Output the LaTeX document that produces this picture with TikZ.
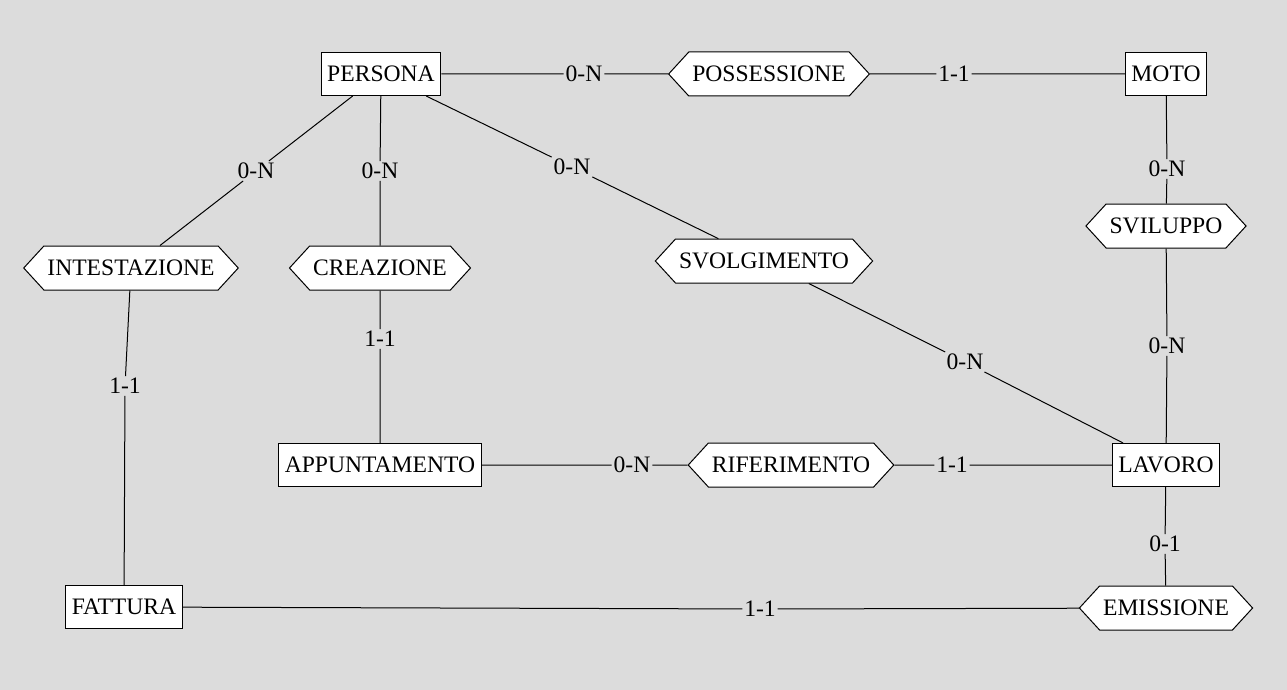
\documentclass[tikz,border=0pt]{standalone}
\usepackage{fontspec}
\setmainfont{Liberation Serif}
\usetikzlibrary{shapes.symbols}
\definecolor{bggray}{RGB}{220,220,220}
\begin{document}
\begin{tikzpicture}[x=1pt, y=-1pt, line width=1pt, font=\fontsize{23.6}{27}\selectfont,
    entity/.style={draw, fill=white, minimum height=43pt, inner xsep=6pt},
    relation/.style={draw, fill=white, signal, signal to=west and east, signal pointer angle=95, minimum height=44pt, inner xsep=3.5pt},
    card/.style={inner sep=1.5pt}]
    \fill[bggray] (0,0) rectangle (1287,690);
    \useasboundingbox (0,0) rectangle (1287,690);
\node (persona) at (381,74)[entity]{PERSONA};
\node (possessione) at (769,74)[relation]{POSSESSIONE};
\node (moto) at (1166,74)[entity]{MOTO};
\node (intestazione) at (131,268)[relation]{INTESTAZIONE};
\node (creazione) at (380,268)[relation]{CREAZIONE};
\node (svolgimento) at (764,261)[relation]{SVOLGIMENTO};
\node (sviluppo) at (1166,226)[relation]{SVILUPPO};
\node (appuntamento) at (380,465)[entity]{APPUNTAMENTO};
\node (riferimento) at (791,465)[relation]{RIFERIMENTO};
\node (lavoro) at (1166,465)[entity]{LAVORO};
\node (fattura) at (124,607)[entity]{FATTURA};
\node (emissione) at (1166,608)[relation]{EMISSIONE};
\node (c1) at (584,74)[card]{0-N};
\node (c2) at (954,74)[card]{1-1};
\node (c3) at (256,171)[card]{0-N};
\node (c4) at (380,171)[card]{0-N};
\node (c5) at (572,167)[card]{0-N};
\node (c6) at (1167,169)[card]{0-N};
\node (c7) at (1167,346)[card]{0-N};
\node (c8) at (965,362)[card]{0-N};
\node (c9) at (380,339)[card]{1-1};
\node (c10) at (125,386)[card]{1-1};
\node (c11) at (632,465)[card]{0-N};
\node (c12) at (952,465)[card]{1-1};
\node (c13) at (1165,544)[card]{0-1};
\node (c14) at (760,609)[card]{1-1};
\draw (persona) -- (c1) (c1) -- (possessione);
\draw (possessione) -- (c2) (c2) -- (moto);
\draw (persona) -- (c3) (c3) -- (intestazione);
\draw (persona) -- (c4) (c4) -- (creazione);
\draw (persona) -- (c5) (c5) -- (svolgimento);
\draw (moto) -- (c6) (c6) -- (sviluppo);
\draw (sviluppo) -- (c7) (c7) -- (lavoro);
\draw (svolgimento) -- (c8) (c8) -- (lavoro);
\draw (creazione) -- (c9) (c9) -- (appuntamento);
\draw (intestazione) -- (c10) (c10) -- (fattura);
\draw (appuntamento) -- (c11) (c11) -- (riferimento);
\draw (riferimento) -- (c12) (c12) -- (lavoro);
\draw (lavoro) -- (c13) (c13) -- (emissione);
\draw (fattura) -- (c14) (c14) -- (emissione);
\end{tikzpicture}
\end{document}
